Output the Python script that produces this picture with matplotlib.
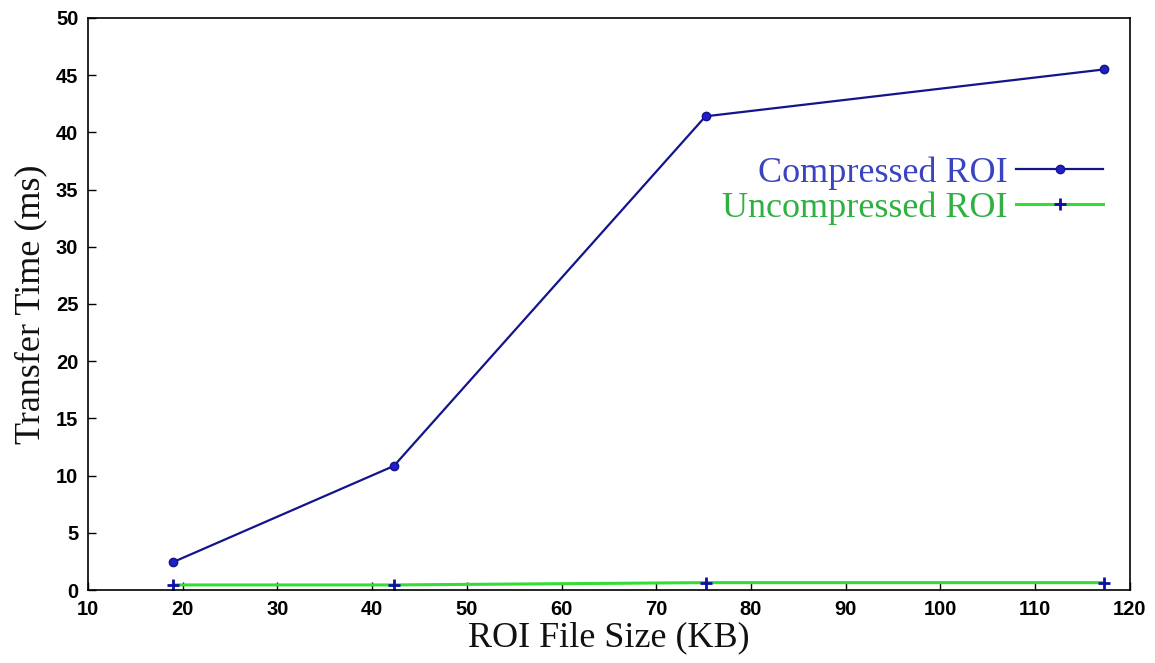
import matplotlib
matplotlib.use("Agg")
import matplotlib.pyplot as plt

# data
file_size = [19, 42.3, 75.2, 117.3]
compressed = [2.45, 10.85, 41.4, 45.5]
uncompressed = [0.45, 0.45, 0.65, 0.65]

xticks = list(range(10, 121, 10))
yticks = list(range(0, 51, 5))

fig = plt.figure(figsize=(11.55, 6.63), dpi=100)
ax = fig.add_axes([0.0762, 0.110, 0.902, 0.863])

ax.plot(file_size, compressed, color="#14148c", lw=1.6, marker="o", ms=6,
        mfc="#2020c8", mec="#14148c", label="Compressed ROI")
ax.plot(file_size, uncompressed, color="#33dd33", lw=2.2, marker="+", ms=9,
        mew=2, mec="#1010a0", label="Uncompressed ROI")

ax.set_xlim(10, 120)
ax.set_ylim(0, 50)
ax.set_xticks(xticks)
ax.set_yticks(yticks)
ax.tick_params(direction="in", length=6, width=1, labelsize=14.5, pad=7)
for lab in ax.get_xticklabels() + ax.get_yticklabels():
    lab.set_fontfamily("Liberation Sans")
    lab.set_fontweight("bold")
for s in ax.spines.values():
    s.set_linewidth(1.2)

ax.set_xlabel("ROI File Size (KB)", family="Liberation Serif",
              fontsize=26, color="#111111", labelpad=2)
ax.set_ylabel("Transfer Time (ms)", family="Liberation Serif",
              fontsize=26, color="#111111", labelpad=6)

leg = ax.legend(loc="center right", bbox_to_anchor=(0.988, 0.698), frameon=False,
                markerfirst=False, handlelength=2.4, handletextpad=0.25,
                labelspacing=0.05, borderaxespad=0,
                prop={"family": "Liberation Serif", "size": 26})
leg.get_texts()[0].set_color("#3a44c0")
leg.get_texts()[1].set_color("#30b040")

fig.savefig("out.png", dpi=100)
